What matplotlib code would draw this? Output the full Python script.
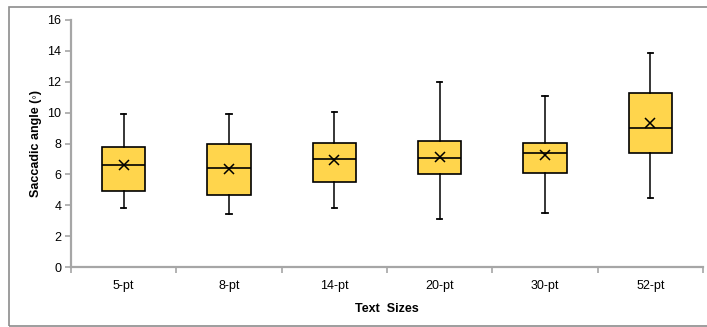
import numpy as np
import matplotlib
matplotlib.use("Agg")
from matplotlib import pyplot as plt
from matplotlib.patches import Rectangle

plt.rcParams['font.family'] = ['Liberation Sans', 'DejaVu Sans']

sizes = ["5-pt", "8-pt", "14-pt", "20-pt", "30-pt", "52-pt"]
whis_lo = [3.82, 3.42, 3.81, 3.08, 3.51, 4.46]
q1 = [4.94, 4.64, 5.52, 6.02, 6.06, 7.36]
med = [6.58, 6.40, 6.97, 7.08, 7.38, 9.00]
q3 = [7.79, 7.96, 8.01, 8.18, 8.01, 11.25]
whis_hi = [9.91, 9.90, 10.06, 12.00, 11.10, 13.88]
mean = [6.60, 6.32, 6.90, 7.12, 7.23, 9.31]

grey = "#a6a6a6"

fig = plt.figure(figsize=(7.07, 3.27), dpi=100)
ax = fig.add_axes([71/707, 1-267/327, 632/707, 247/327])

stats = []
for i in range(len(sizes)):
    stats.append(dict(whislo=whis_lo[i], q1=q1[i], med=med[i], q3=q3[i],
                      whishi=whis_hi[i], mean=mean[i], fliers=[], label=sizes[i]))

pos = np.arange(1, len(sizes) + 1)
ax.bxp(stats, positions=pos, widths=0.41, patch_artist=True, showmeans=True,
       boxprops=dict(facecolor="#ffd54c", edgecolor="black", linewidth=1.2),
       medianprops=dict(color="black", linewidth=1.2),
       whiskerprops=dict(color="black", linewidth=1.1),
       capprops=dict(color="black", linewidth=1.3),
       capwidths=0.05,
       meanprops=dict(marker="x", markeredgecolor="black", markersize=6.5,
                      markeredgewidth=1.1))

ax.set_xlim(0.5, len(sizes) + 0.5)
ax.set_ylim(0, 16)
ax.set_yticks(range(0, 17, 2))
ax.set_xticks(np.arange(0.5, len(sizes) + 1, 1))
ax.set_xticklabels([])
ax.set_xticks(pos, minor=True)
ax.set_xticklabels(sizes, minor=True)
ax.tick_params(axis="x", which="minor", length=0, pad=9, labelsize=9)
ax.tick_params(axis="x", which="major", length=4, color=grey, width=1.2)
ax.tick_params(axis="y", length=4, color=grey, width=1.2, labelsize=9, pad=3)

for s in ["top", "right"]:
    ax.spines[s].set_visible(False)
for s in ["left", "bottom"]:
    ax.spines[s].set_color(grey)
    ax.spines[s].set_linewidth(1.6)

ax.set_ylabel("Saccadic angle (◦)", fontsize=9, fontweight="bold", labelpad=4)
ax.set_xlabel("Text  Sizes", fontsize=9, fontweight="bold", labelpad=8)

fig.patches.append(Rectangle((9/707, 1/327), 710/707, 319/327, transform=fig.transFigure,
                             fill=False, edgecolor="#8c8c8c", linewidth=1.2))

fig.savefig("out.png", dpi=100)
